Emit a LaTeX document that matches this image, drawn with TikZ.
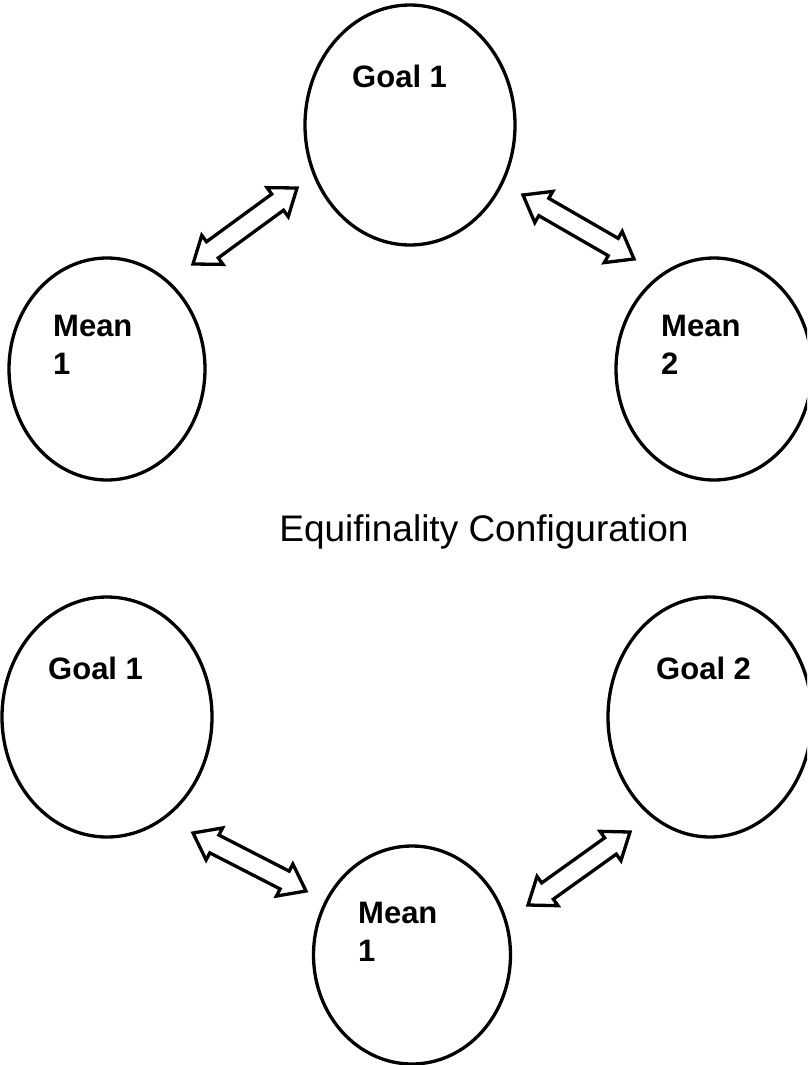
\documentclass[tikz,border=0pt]{standalone}
\usepackage{fontspec}
\setmainfont{Liberation Sans}
\usetikzlibrary{shapes.geometric,calc}
\tikzset{
  bubble/.style={ellipse,draw=black,line width=3.3pt,inner sep=0pt},
  lbl/.style={font=\fontsize{31}{38}\selectfont\bfseries,inner sep=0pt,anchor=north west,align=left},
  caption/.style={font=\fontsize{37}{44}\selectfont,inner sep=0pt,anchor=base},
  blockarrow/.style={draw=black,line width=3.3pt,line join=miter,fill=white},
}
% hollow double-headed block arrow between two named tip coordinates
\newcommand{\dblarrow}[2]{%
  \coordinate (#1h) at ($(#1)!24pt!(#2)$);
  \coordinate (#2h) at ($(#2)!24pt!(#1)$);
  \draw[blockarrow] (#1)
    -- ($(#1h)!18pt!90:(#2)$) -- ($(#1h)!10pt!90:(#2)$)
    -- ($(#2h)!10pt!-90:(#1)$) -- ($(#2h)!18pt!-90:(#1)$)
    -- (#2)
    -- ($(#2h)!18pt!90:(#1)$) -- ($(#2h)!10pt!90:(#1)$)
    -- ($(#1h)!10pt!-90:(#2)$) -- ($(#1h)!18pt!-90:(#2)$)
    -- cycle;}
\begin{document}
\begin{tikzpicture}[x=1pt,y=-1pt]
\useasboundingbox (0,0) rectangle (807,1065);
\clip (0,0) rectangle (807,1065);
% top configuration
\node[bubble,minimum width=210pt,minimum height=240pt] (goalA) at (410,125) {};
\node[bubble,minimum width=196pt,minimum height=222pt] (meanA) at (107,369) {};
\node[bubble,minimum width=196pt,minimum height=222pt] (meanB) at (714,369) {};
\node[lbl] (goalAt) at (352,65) {Goal 1};
\node[lbl] (meanAt) at (53,315) {Mean\\1};
\node[lbl] (meanBt) at (661,315) {Mean\\2};
\coordinate (p1) at (193,264);
\coordinate (p2) at (297,188);
\coordinate (p3) at (523,195);
\coordinate (p4) at (634,259);
\dblarrow{p1}{p2}
\dblarrow{p3}{p4}
% caption
\node[caption] (cap) at (484,541) {Equifinality Configuration};
% bottom configuration
\node[bubble,minimum width=210pt,minimum height=240pt] (goalC) at (107,717) {};
\node[bubble,minimum width=204pt,minimum height=240pt] (goalD) at (710,717) {};
\node[bubble,minimum width=197pt,minimum height=218pt] (meanC) at (412,955) {};
\node[lbl] (goalCt) at (48,657) {Goal 1};
\node[lbl] (goalDt) at (656,657) {Goal 2};
\node[lbl] (meanCt) at (358,902) {Mean\\1};
\coordinate (q1) at (193,833);
\coordinate (q2) at (306,891);
\coordinate (q3) at (630,832);
\coordinate (q4) at (528,905);
\dblarrow{q1}{q2}
\dblarrow{q3}{q4}
\end{tikzpicture}
\end{document}
